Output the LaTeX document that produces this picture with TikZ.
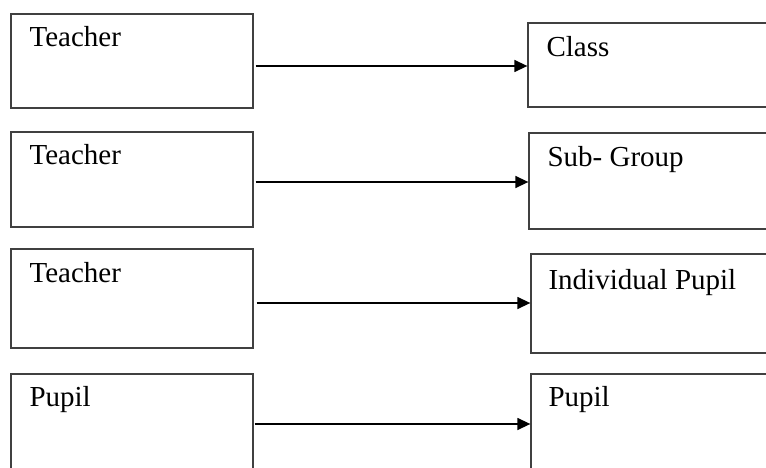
\documentclass[tikz,border=0pt]{standalone}
\usepackage{fontspec}
\setmainfont{Liberation Serif}
\usetikzlibrary{arrows.meta}
\tikzset{
  box/.style={draw=black!75, line width=1.3pt, rectangle, inner sep=0pt},
  lbl/.style={anchor=base west, inner sep=0pt, font=\fontsize{29}{33}\selectfont},
  link/.style={line width=1.4pt, -{Triangle[length=13pt,width=12pt]}}
}
\begin{document}
\begin{tikzpicture}[x=1pt,y=-1pt]
\useasboundingbox (0,0) rectangle (766,468);
\clip (0,0) rectangle (766,468);
% left column
\node[box, minimum width=242pt, minimum height=94pt] (tch1) at (132,61){};
\node[box, minimum width=242pt, minimum height=95pt] (tch2) at (132,179.5){};
\node[box, minimum width=242pt, minimum height=99pt] (tch3) at (132,298.5){};
\node[box, minimum width=242pt, minimum height=110pt] (pup1) at (132,429){};
% right column
\node[box, minimum width=250pt, minimum height=84pt] (cls) at (653,65){};
\node[box, minimum width=250pt, minimum height=96pt] (sub) at (654,181){};
\node[box, minimum width=250pt, minimum height=99pt] (ind) at (656,303.5){};
\node[box, minimum width=250pt, minimum height=110pt] (pup2) at (656,429){};
% texts
\node[lbl] (ttch1) at ([shift={(19,33)}]tch1.north west){Teacher};
\node[lbl] (ttch2) at ([shift={(19,33)}]tch2.north west){Teacher};
\node[lbl] (ttch3) at ([shift={(19,34)}]tch3.north west){Teacher};
\node[lbl] (tpup1) at ([shift={(19,33)}]pup1.north west){Pupil};
\node[lbl] (tcls) at ([shift={(19,34)}]cls.north west){Class};
\node[lbl] (tsub) at ([shift={(19,34)}]sub.north west){Sub- Group};
\node[lbl] (tind) at ([shift={(18,36)}]ind.north west){Individual Pupil};
\node[lbl] (tpup2) at ([shift={(18,33)}]pup2.north west){Pupil};
% arrows
\draw[link] ([shift={(2,5)}]tch1.east) -- ([yshift=-5pt]tch1.east -| cls.west);
\draw[link] ([shift={(2,2.5)}]tch2.east) -- ([yshift=-2.5pt]tch2.east -| sub.west);
\draw[link] ([shift={(3,4.5)}]tch3.east) -- ([yshift=-4.5pt]tch3.east -| ind.west);
\draw[link] ([shift={(1,-5)}]pup1.east) -- ([yshift=5pt]pup1.east -| pup2.west);
\end{tikzpicture}
\end{document}
